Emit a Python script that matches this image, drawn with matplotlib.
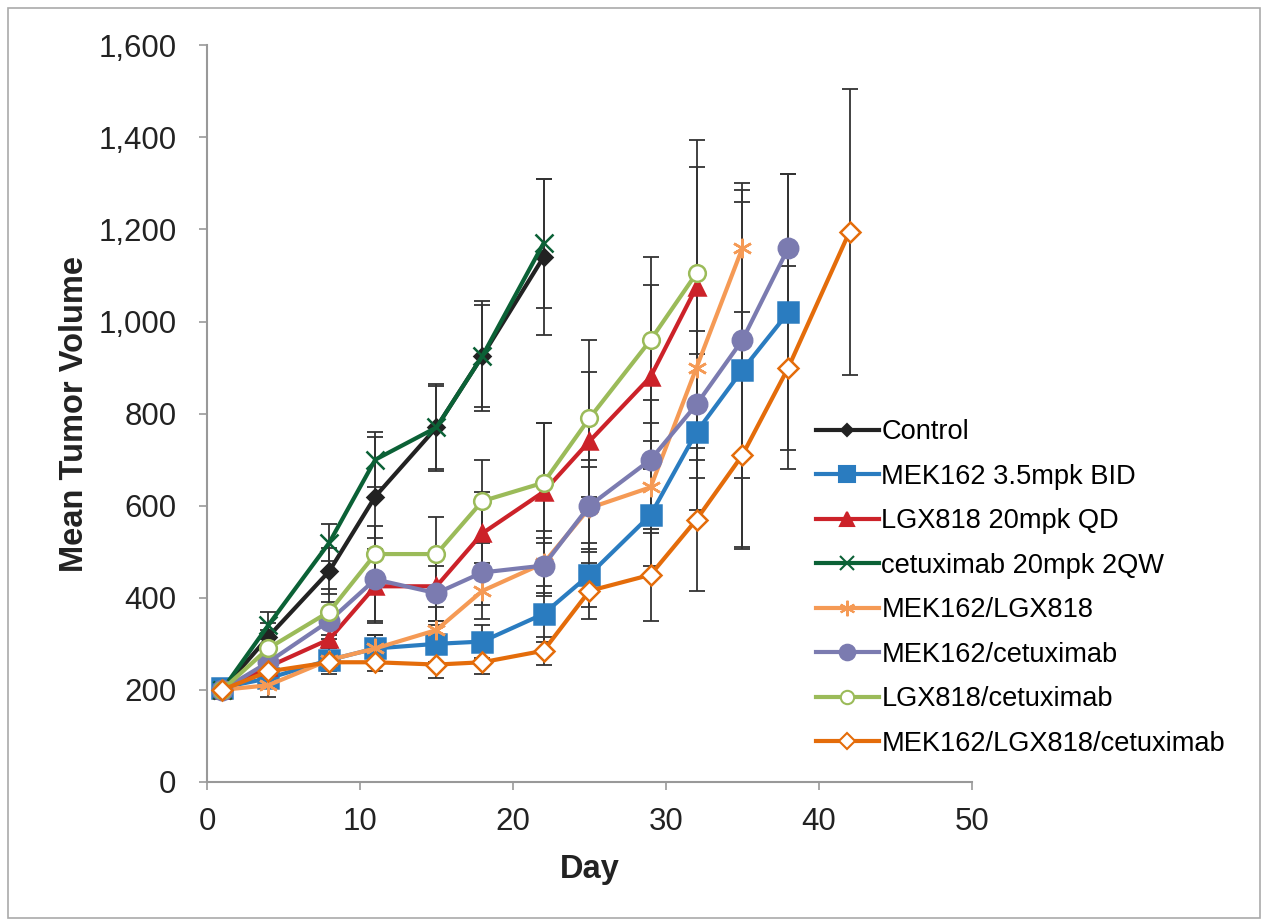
import matplotlib

matplotlib.use("Agg")

import matplotlib.pyplot as plt
from matplotlib.lines import Line2D
from matplotlib.patches import Rectangle
from matplotlib.ticker import FuncFormatter

plt.rcParams["font.family"] = ["Liberation Sans", "DejaVu Sans"]

days = [1, 4, 8, 11, 15, 18, 22, 25, 29, 32, 35, 38, 42]

labels = [
    "Control",
    "MEK162 3.5mpk BID",
    "LGX818 20mpk QD",
    "cetuximab 20mpk 2QW",
    "MEK162/LGX818",
    "MEK162/cetuximab",
    "LGX818/cetuximab",
    "MEK162/LGX818/cetuximab",
]

control = [200, 315, 458, 620, 770, 925, 1140]
control_err = [10, 30, 50, 130, 90, 110, 170]
mek162 = [205, 225, 265, 290, 300, 305, 365, 450, 580, 760, 895, 1020]
mek162_err = [10, 20, 25, 30, 40, 35, 60, 70, 110, 170, 390, 300]
lgx818 = [200, 250, 310, 425, 425, 540, 630, 740, 880, 1075]
lgx818_err = [10, 30, 40, 80, 75, 90, 150, 150, 200, 260]
cetuximab = [200, 340, 520, 700, 770, 925, 1170]
cetuximab_err = [10, 30, 40, 60, 95, 120, 140]
mek_lgx = [200, 210, 265, 290, 330, 415, 475, 595, 640, 900, 1160]
mek_lgx_err = [10, 25, 30, 30, 50, 60, 70, 90, 100, 200, 140]
mek_cet = [200, 260, 350, 440, 410, 455, 470, 600, 700, 820, 960, 1160]
mek_cet_err = [10, 30, 40, 90, 60, 70, 60, 100, 130, 160, 300, 160]
lgx_cet = [200, 290, 370, 495, 495, 610, 650, 790, 960, 1105]
lgx_cet_err = [10, 40, 50, 60, 80, 90, 130, 170, 180, 290]
triple = [200, 240, 260, 260, 255, 260, 285, 415, 450, 570, 710, 900, 1195]
triple_err = [10, 30, 20, 20, 30, 25, 30, 60, 100, 155, 200, 220, 310]

series = [control, mek162, lgx818, cetuximab, mek_lgx, mek_cet, lgx_cet, triple]
errors = [control_err, mek162_err, lgx818_err, cetuximab_err, mek_lgx_err,
          mek_cet_err, lgx_cet_err, triple_err]

colors = ["#222222", "#2a7cc0", "#cc2229", "#0b6136", "#f59a55", "#7b7bb0",
          "#9bbb59", "#e46c0a"]
markers = ["D", "s", "^", "x", (6, 2, 0), "o", "o", "D"]
marker_sizes = [8, 14, 12, 13, 14, 14, 12, 10]
face_colors = ["#222222", "#2a7cc0", "#cc2229", "#0b6136", "#f59a55", "#7b7bb0",
               "white", "white"]

fig = plt.figure(figsize=(12.65, 9.23), dpi=100)
ax = fig.add_axes([0.1636, 0.1528, 0.6047, 0.7981])

handles = []
for values, err, label, color, marker, ms, fc in zip(
    series, errors, labels, colors, markers, marker_sizes, face_colors
):
    x = days[: len(values)]
    ax.errorbar(x, values, yerr=err, fmt="none", ecolor="#333333",
                elinewidth=1.3, capsize=6, capthick=1.3, zorder=2)
    ax.plot(x, values, color=color, linewidth=3, marker=marker, markersize=ms,
            markerfacecolor=fc, markeredgecolor=color, markeredgewidth=1.8,
            zorder=3)
    handles.append(Line2D([0], [0], color=color, linewidth=3, marker=marker,
                          markersize=ms * 0.8, markerfacecolor=fc,
                          markeredgecolor=color, markeredgewidth=1.5,
                          label=label))

ax.set_xlim(0, 50)
ax.set_ylim(0, 1600)
ax.set_xticks(range(0, 51, 10))
ax.set_yticks(range(0, 1601, 200))
ax.yaxis.set_major_formatter(FuncFormatter(lambda v, p: f"{int(v):,}"))
ax.tick_params(labelsize=22.5, colors="#999999", labelcolor="#222222",
               direction="out", length=6, width=1.2)
ax.tick_params(axis="y", pad=16)
ax.tick_params(axis="x", pad=12)
for side in ("top", "right"):
    ax.spines[side].set_visible(False)
for side in ("left", "bottom"):
    ax.spines[side].set_color("#999999")
    ax.spines[side].set_linewidth(1.5)

ax.set_xlabel("Day", fontsize=23.5, fontweight="bold", color="#222222", labelpad=12)
ax.set_ylabel("Mean Tumor Volume", fontsize=23.5, fontweight="bold",
              color="#222222", labelpad=6)

fig.legend(handles=handles, loc="upper left", bbox_to_anchor=(0.645, 0.546),
           frameon=False, fontsize=19.6, handlelength=2.3, handletextpad=0.1,
           labelspacing=0.68, borderpad=0, borderaxespad=0)

fig.patches.append(Rectangle((0.006, 0.005), 0.99, 0.986, transform=fig.transFigure,
                             fill=False, edgecolor="#aaaaaa", linewidth=1.2))

fig.savefig("out.png", dpi=100)
